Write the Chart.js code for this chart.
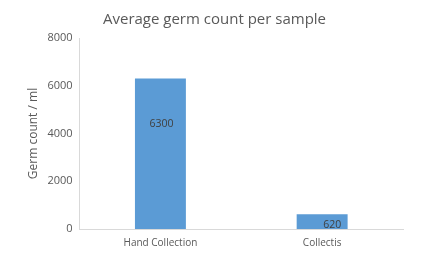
<!DOCTYPE html>
<html>
<head>
<meta charset="utf-8">
<script src="https://cdn.jsdelivr.net/npm/chart.js@4/dist/chart.umd.min.js"></script>
<style>
  html, body { margin: 0; padding: 0; background: #fff; }
  #wrap { width: 435px; height: 262px; }
</style>
</head>
<body>
<div id="wrap"><canvas id="graficoGerm" width="435" height="262"></canvas></div>
<script>
var categories = ['Hand Collection', 'Collectis'];
var germCounts = [6300, 620];
var yTicks = [0, 2000, 4000, 6000, 8000];

var textColor = '#595959';
var fontFamily = '"Open Sans", "Noto Sans", sans-serif';

// value labels drawn inside the bars
var valueLabels = {
  id: 'valueLabels',
  afterDatasetsDraw: function(chart, args, opts) {
    var ctx = chart.ctx;
    var meta = chart.getDatasetMeta(0);
    ctx.save();
    ctx.font = '10.5px ' + fontFamily;
    ctx.fillStyle = '#404040';
    ctx.textAlign = 'center';
    ctx.textBaseline = 'middle';
    meta.data.forEach(function(bar, i) {
      var off = opts.offsets[i];
      ctx.fillText(String(germCounts[i]), bar.x + off[0], bar.y + off[1]);
    });
    ctx.restore();
  }
};

var ctx = document.getElementById('graficoGerm').getContext('2d');
var germChart = new Chart(ctx, {
  type: 'bar',
  data: {
    labels: categories,
    datasets: [{
      label: 'Germ count',
      data: germCounts,
      backgroundColor: '#5B9BD5',
      borderWidth: 0,
      categoryPercentage: 1,
      barPercentage: 0.315
    }]
  },
  options: {
    responsive: false,
    animation: false,
    layout: { padding: { left: 26, right: 32, top: 5, bottom: 5 } },
    plugins: {
      legend: { display: false },
      tooltip: { enabled: false },
      title: {
        display: true,
        text: 'Average germ count per sample',
        color: textColor,
        font: { family: fontFamily, size: 15, weight: 'normal' },
        padding: { top: 6, bottom: 9 }
      },
      valueLabels: { offsets: [[1, 45], [10, 11]] }
    },
    scales: {
      x: {
        grid: { display: false, drawTicks: false },
        border: { color: '#D9D9D9' },
        ticks: { color: textColor, font: { family: fontFamily, size: 10 }, padding: 8 }
      },
      y: {
        min: 0,
        max: 8000,
        afterBuildTicks: function(scale) {
          scale.ticks = yTicks.map(function(v) { return { value: v }; });
        },
        grid: { display: false, drawTicks: false },
        border: { color: '#D9D9D9' },
        ticks: {
          color: textColor,
          font: { family: fontFamily, size: 11 },
          padding: 7,
          callback: function(v) { return String(v); }
        },
        title: {
          display: true,
          text: 'Germ count / ml',
          color: textColor,
          font: { family: fontFamily, size: 12 },
          padding: { top: 0, bottom: 0 }
        }
      }
    }
  },
  plugins: [valueLabels]
});
</script>
</body>
</html>
